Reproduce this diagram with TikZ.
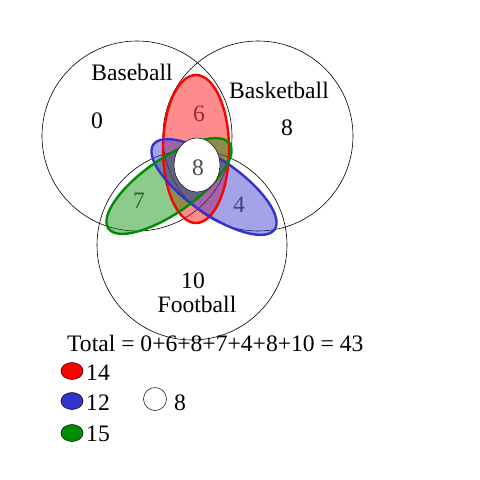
\documentclass[tikz,border=0pt]{standalone}
\usepackage{fontspec}
\setmainfont{Liberation Serif}
\usetikzlibrary{shapes.geometric}
\definecolor{mred}{RGB}{255,0,0}
\definecolor{mblue}{RGB}{51,51,204}
\definecolor{mgreen}{RGB}{0,140,0}
\begin{document}
\begin{tikzpicture}[x=1pt,y=-1pt,
  lbl/.style={font=\fontsize{23.6}{25}\selectfont, inner sep=0pt},
  tight/.style={anchor=base, text height=0.68em, text depth=0pt},
  inlbl/.style={font=\fontsize{23.6}{25}\selectfont, inner sep=0pt, text=black!70},
  setc/.style={draw=black, line width=0.6pt},
  legend/.style={draw=black, line width=0.5pt}]
\useasboundingbox (0,0) rectangle (480,480);
\fill[white] (0,0) rectangle (480,480);
% set circles
\node[setc, circle, minimum size=190pt, inner sep=0pt] (base) at (137,136) {};
\node[setc, circle, minimum size=190pt, inner sep=0pt] (bask) at (258,136) {};
\node[setc, circle, minimum size=190pt, inner sep=0pt] (foot) at (192,245) {};
% inner numbers under the fills
\node[inlbl] (n6) at (199,114) {6};
\node[inlbl] (n7) at (139,201) {7};
\node[inlbl] (n4) at (239,205) {4};
% ellipses
\fill[mred, opacity=0.45] (196,149) ellipse [x radius=33, y radius=74];
\fill[mgreen, opacity=0.45, rotate around={35:(169,186)}] (169,186) ellipse [x radius=74, y radius=27];
\fill[mblue, opacity=0.45, rotate around={-35:(214,187)}] (214,187) ellipse [x radius=74, y radius=27];
\draw[mred, line width=2.4pt] (196,149) ellipse [x radius=33, y radius=74];
\draw[mblue, line width=2.4pt, rotate around={-35:(214,187)}] (214,187) ellipse [x radius=74, y radius=27];
\draw[mgreen, line width=2.4pt, rotate around={35:(169,186)}] (169,186) ellipse [x radius=74, y radius=27];
% white centre
\node[draw=black, fill=white, ellipse, line width=0.5pt, minimum width=46pt, minimum height=54pt, inner sep=0pt] (centre) at (197,165) {};
\node[inlbl] (n8c) at (198,168) {8};
% labels
\node[lbl] (lbase) at (132,72) {Baseball};
\node[lbl] (lbask) at (279,90) {Basketball};
\node[lbl] (n0) at (97,121) {0};
\node[lbl] (n8) at (287,128) {8};
\node[lbl, tight] (n10) at (193,288) {10};
\node[lbl, tight] (lfoot) at (197,312) {Football};
\node[lbl, anchor=west] (total) at (67,343) {Total = 0+6+8+7+4+8+10 = 43};
% legend
\node[legend, fill=mred, ellipse, minimum width=22pt, minimum height=17pt, inner sep=0pt] (kr) at (72,371) {};
\node[lbl, anchor=west] (tr) at (86,373) {14};
\node[legend, fill=mblue, ellipse, minimum width=22pt, minimum height=17pt, inner sep=0pt] (kb) at (72,401) {};
\node[lbl, anchor=west] (tb) at (86,403) {12};
\node[legend, fill=mgreen, ellipse, minimum width=22pt, minimum height=17pt, inner sep=0pt] (kg) at (72,433) {};
\node[lbl, anchor=west] (tg) at (86,434) {15};
\node[legend, fill=white, circle, minimum size=23pt, inner sep=0pt] (kw) at (155,399) {};
\node[lbl, anchor=west] (tw) at (174,403) {8};
\end{tikzpicture}
\end{document}
